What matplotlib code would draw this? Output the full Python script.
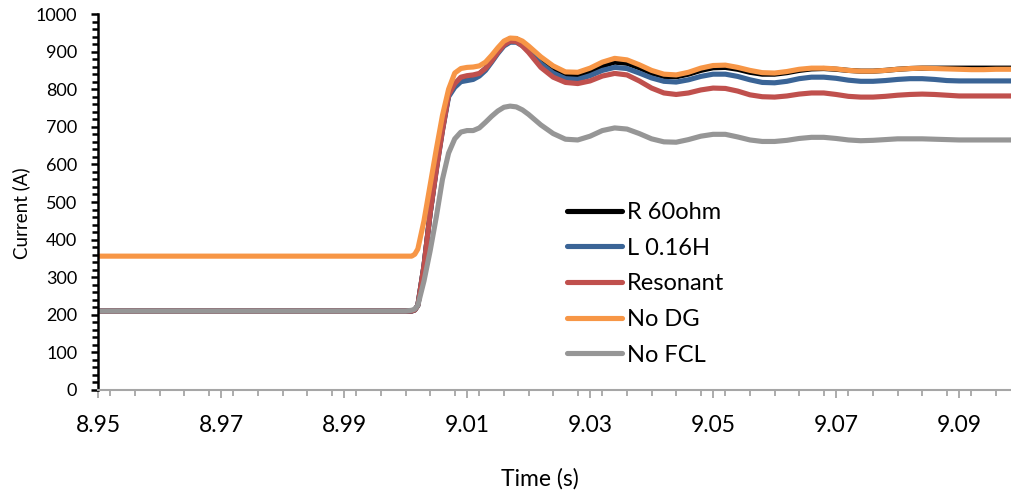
import matplotlib
matplotlib.use("Agg")
import matplotlib.pyplot as plt
from matplotlib.ticker import MultipleLocator, FixedLocator, FormatStrFormatter

plt.rcParams['font.family'] = ['Lato', 'DejaVu Sans']

# Time axis (s) shared by all series
time_s = [8.950, 9.000, 9.001, 9.0015, 9.002, 9.003, 9.004, 9.005, 9.006, 9.007, 9.008,
          9.009, 9.010, 9.011, 9.012, 9.013, 9.014, 9.015, 9.016, 9.017, 9.018,
          9.019, 9.020, 9.022, 9.024, 9.026, 9.028, 9.030, 9.032, 9.034, 9.036,
          9.038, 9.040, 9.042, 9.044, 9.046, 9.048, 9.050, 9.052, 9.054, 9.056,
          9.058, 9.060, 9.062, 9.064, 9.066, 9.068, 9.070, 9.072, 9.074, 9.076,
          9.078, 9.080, 9.082, 9.084, 9.086, 9.088, 9.090, 9.092, 9.094, 9.096,
          9.098, 9.100]

# Line current (A) for each limiter configuration
r_60ohm = [210, 210, 210, 213, 225, 330, 470, 590, 695, 785, 812,
           826, 830, 833, 840, 855, 878, 900, 922, 934, 934,
           925, 910, 878, 852, 836, 835, 847, 862, 872, 869,
           857, 843, 834, 833, 840, 850, 857, 858, 853, 845,
           840, 840, 844, 850, 854, 855, 853, 850, 848, 848,
           850, 853, 855, 856, 856, 856, 856, 856, 856, 856,
           856, 856]

l_016h = [210, 210, 210, 213, 225, 330, 470, 585, 690, 780, 805,
          820, 823, 826, 835, 850, 872, 895, 915, 925, 925,
          916, 902, 868, 843, 828, 826, 836, 850, 858, 855,
          843, 830, 821, 819, 825, 834, 840, 840, 834, 825,
          818, 817, 821, 828, 832, 832, 829, 824, 821, 821,
          823, 826, 828, 828, 826, 823, 822, 822, 822, 822,
          822, 822]

resonant = [210, 210, 210, 213, 225, 330, 470, 585, 690, 785, 815,
            832, 836, 838, 842, 855, 875, 898, 918, 928, 927,
            915, 898, 858, 832, 818, 815, 822, 835, 842, 838,
            822, 803, 790, 786, 790, 798, 803, 802, 795, 785,
            780, 779, 782, 787, 790, 790, 786, 781, 779, 779,
            781, 784, 786, 787, 786, 784, 782, 782, 782, 782,
            782, 782]

no_dg = [356, 356, 356, 361, 375, 450, 545, 640, 730, 800, 843,
         855, 858, 859, 862, 872, 890, 910, 928, 936, 935,
         928, 915, 886, 862, 846, 845, 856, 872, 882, 878,
         865, 850, 840, 838, 845, 856, 863, 864, 858, 850,
         844, 843, 847, 853, 856, 856, 854, 850, 848, 848,
         850, 853, 855, 856, 855, 854, 853, 852, 852, 853,
         853, 853]

no_fcl = [210, 210, 212, 215, 225, 290, 370, 460, 560, 630, 668,
          686, 690, 690, 697, 712, 728, 742, 752, 755, 753,
          745, 733, 705, 682, 667, 665, 675, 690, 697, 694,
          682, 668, 660, 659, 666, 675, 680, 680, 673, 665,
          661, 661, 664, 669, 672, 672, 669, 665, 663, 664,
          666, 668, 668, 668, 667, 666, 665, 665, 665, 665,
          665, 665]

series = [
    ("R 60ohm", r_60ohm, "#000000"),
    ("L 0.16H", l_016h, "#3A6496"),
    ("Resonant", resonant, "#C0504D"),
    ("No DG", no_dg, "#F79646"),
    ("No FCL", no_fcl, "#969696"),
]

x_major = [8.95, 8.97, 8.99, 9.01, 9.03, 9.05, 9.07, 9.09]

fig = plt.figure(figsize=(10.12, 4.98), dpi=100)
ax = fig.add_axes([98 / 1012, 1 - 390 / 498, (1012 - 98) / 1012, (390 - 14) / 498])

for name, vals, color in series:
    ax.plot(time_s, vals, color=color, lw=3.7, label=name,
            solid_capstyle='round', solid_joinstyle='round')

ax.set_xlim(8.95, 9.0986)
ax.set_ylim(0, 1000)

ax.xaxis.set_major_locator(FixedLocator(x_major))
ax.xaxis.set_minor_locator(MultipleLocator(0.004))
ax.xaxis.set_major_formatter(FormatStrFormatter('%.2f'))
ax.yaxis.set_major_locator(MultipleLocator(100))
ax.yaxis.set_minor_locator(MultipleLocator(20))

for s in ('top', 'right'):
    ax.spines[s].set_visible(False)
ax.spines['left'].set_color('black')
ax.spines['left'].set_linewidth(1.8)
ax.spines['bottom'].set_color('#A6A6A6')
ax.spines['bottom'].set_linewidth(1.5)

ax.tick_params(axis='y', which='major', length=5, width=1.8, color='black',
               labelsize=13, pad=10)
ax.tick_params(axis='y', which='minor', length=4, width=1.8, color='black')
ax.tick_params(axis='x', which='major', length=6, width=1.3, color='#A6A6A6',
               labelsize=16.5, pad=12)
ax.tick_params(axis='x', which='minor', length=4, width=1.3, color='#A6A6A6')

fig.text(21 / 1012, 1 - 213 / 498, "Current (A)", rotation=90, ha='center',
         va='center', fontsize=13.5)
fig.text(540 / 1012, 1 - 479 / 498, "Time (s)", ha='center', va='center',
         fontsize=16.5)

leg = ax.legend(loc='upper left', bbox_to_anchor=(567 / 1012, 1 - 202 / 498),
                bbox_transform=fig.transFigure, frameon=False, fontsize=17,
                handlelength=2.33, handletextpad=0.21, labelspacing=0.62,
                borderpad=0, borderaxespad=0)
for line in leg.get_lines():
    line.set_linewidth(3.7)

fig.savefig("out.png", dpi=100)
